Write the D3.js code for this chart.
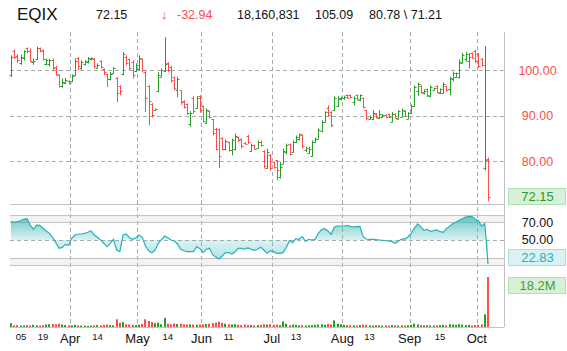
<!DOCTYPE html>
<html lang="en">
<head>
<meta charset="UTF-8">
<script src="https://d3js.org/d3.v7.min.js"></script>
<style>
  body { margin: 0; background: #fff; }
  svg { display: block; font-family: Arial, "Liberation Sans", sans-serif; }
</style>
<title>EQIX</title>
</head>
<body>
<svg width="567" height="351"></svg>
<script>
// ---- data ----
const symbol = "EQIX";
const lastText = "72.15";
const changeText = "-32.94";
const volumeText = "18,160,831";
const prevText = "105.09";
const hiLoText = "80.78 \\ 71.21";

const firstDay = "2015-03-05";
const lastDay = "2015-10-06";
const holidays = ["2015-04-03", "2015-05-25", "2015-07-03", "2015-09-07"];

const openP = [
  98.9,104.3,103.2,101.6,102.6,104.8,104.2,101.8,102.4,104.8,
  104.4,101.4,101.3,102.2,100.8,99.0,96.5,97.3,97.6,97.6,
  99.0,102.8,100.5,101.3,101.8,102.4,102.5,100.6,102.0,100.2,
  99.2,98.0,99.5,98.3,96.5,99.2,103.0,102.5,101.9,99.8,
  100.3,102.5,99.7,96.5,92.6,91.3,95.5,98.6,99.8,101.5,
  100.8,98.5,95.6,95.6,93.3,92.5,88.2,94.0,91.8,94.3,
  92.2,88.5,91.0,89.2,87.2,87.0,85.2,82.6,84.2,82.4,
  82.6,85.3,85.0,84.0,85.6,82.3,83.5,82.9,84.3,82.3,
  78.5,81.4,79.9,80.2,76.5,79.5,82.0,83.8,82.0,84.3,
  85.0,85.7,82.5,81.9,81.2,84.3,85.0,86.6,88.6,91.8,
  90.8,91.2,92.2,93.6,93.8,94.5,94.6,93.0,94.6,93.5,
  93.9,91.2,89.3,89.3,90.4,89.5,89.8,90.2,90.3,88.7,
  90.4,89.4,89.8,91.0,89.4,90.6,92.2,95.5,96.6,95.0,
  95.8,94.3,95.7,96.6,94.9,95.0,96.5,95.8,98.0,98.6,
  98.5,101.6,102.4,102.0,103.8,104.2,103.6,102.5,78.5,80.5
];
const highP = [
  103.3,104.6,103.5,103.5,104.4,105.0,104.8,102.6,105.2,105.0,
  104.6,102.6,102.5,102.6,101.0,99.1,98.2,98.3,97.8,99.1,
  102.6,102.9,102.2,102.2,102.9,102.9,102.7,101.5,102.2,100.4,
  99.3,99.6,100.7,98.5,96.7,104.0,103.3,102.6,102.2,101.5,
  103.3,102.6,99.8,96.7,92.8,91.6,99.6,100.4,107.3,101.8,
  101.0,98.6,98.6,95.6,93.4,92.7,91.0,94.3,94.3,94.5,
  92.3,91.6,91.2,89.3,87.3,87.2,85.3,84.8,84.3,85.0,
  86.1,85.4,85.0,84.2,85.8,83.9,83.6,84.6,84.5,82.4,
  82.8,81.6,79.9,80.2,79.9,82.8,83.9,83.9,84.6,85.7,
  86.1,85.9,83.2,83.2,84.6,85.2,87.2,89.0,91.0,92.3,
  91.0,94.3,94.3,94.2,94.4,94.7,94.7,94.3,94.7,94.7,
  94.0,91.3,90.0,91.2,90.6,91.2,90.4,90.3,90.4,90.8,
  90.6,91.2,91.6,91.2,90.8,92.5,96.7,97.3,96.7,95.8,
  96.0,96.7,96.2,96.7,96.0,97.3,96.6,98.6,99.7,99.5,
  102.4,103.8,104.0,103.8,103.9,104.5,103.8,102.7,105.3,80.78
];
const lowP = [
  98.5,102.5,101.6,101.2,102.2,103.8,101.8,101.2,102.2,104.0,
  102.2,101.1,100.8,99.8,98.8,96.2,96.2,97.0,96.9,97.4,
  98.8,100.0,100.1,101.1,101.5,102.2,100.4,100.4,100.4,98.9,
  96.3,97.8,99.3,93.0,94.5,98.9,101.1,100.0,98.2,99.6,
  100.0,99.6,90.8,87.9,89.6,91.2,95.2,98.5,99.6,99.6,
  97.3,95.6,94.1,92.4,91.6,90.2,87.6,90.5,91.5,90.7,
  88.5,88.3,89.4,85.7,82.4,78.5,82.4,82.4,82.1,81.3,
  82.4,84.2,82.8,83.8,83.8,82.1,82.6,82.8,83.2,78.4,
  78.4,77.9,78.4,75.8,76.2,79.4,81.5,81.3,81.9,84.0,
  84.6,82.8,82.0,81.7,81.0,84.1,84.9,86.4,88.5,89.8,
  87.5,91.0,91.9,93.4,93.5,93.8,93.9,92.3,93.4,93.2,
  91.6,89.0,89.2,89.0,89.4,89.3,89.6,89.5,89.5,88.6,
  89.4,89.3,89.7,89.8,89.3,90.5,92.0,94.4,94.9,94.7,
  94.1,94.1,95.5,95.0,94.8,94.9,95.3,94.5,97.6,98.4,
  98.2,101.5,101.9,100.4,102.6,101.6,100.5,100.8,78.0,71.21
];
const closeP = [
  103.0,103.0,102.2,103.0,104.2,104.2,102.0,102.1,104.8,104.2,
  102.5,102.3,102.2,100.4,99.2,96.5,97.5,97.9,97.2,98.8,
  102.0,101.0,101.8,102.0,102.6,102.8,101.0,101.2,100.8,99.6,
  98.0,99.2,100.4,95.0,95.5,103.5,101.5,100.4,99.0,101.2,
  102.8,100.0,94.0,93.2,90.2,91.5,99.0,100.0,101.3,100.0,
  97.8,96.0,98.0,93.0,92.0,90.6,90.6,91.0,94.0,91.2,
  88.8,91.2,89.7,86.2,82.8,81.2,82.8,84.4,82.5,84.6,
  85.6,84.6,83.4,83.9,84.2,83.6,82.8,84.3,83.5,79.0,
  82.0,78.5,78.8,78.0,78.8,82.2,83.5,81.6,84.3,85.4,
  85.9,83.3,82.9,82.8,84.2,85.0,86.9,88.6,90.8,90.2,
  88.0,94.0,93.8,94.0,94.2,94.0,94.1,94.0,93.6,94.5,
  92.0,89.5,89.8,90.5,89.8,90.3,90.2,89.7,89.8,90.4,
  89.6,91.0,91.2,90.0,90.5,92.2,96.3,97.0,95.3,95.5,
  94.5,96.4,96.0,95.3,95.8,96.9,95.6,98.2,99.3,99.3,
  101.9,103.4,103.5,103.0,102.8,102.0,101.0,101.2,80.2,72.15
];
// volume in millions
const volumeM = [
  1.4,0.6,0.7,0.5,0.6,0.7,0.5,0.8,0.6,0.5,
  0.6,0.9,1.0,1.1,1.0,1.2,0.9,0.7,0.6,0.6,
  0.8,0.6,0.5,0.5,0.4,0.5,0.6,0.7,0.6,0.8,
  0.9,0.7,0.6,2.8,1.5,1.8,1.0,0.9,0.8,0.7,
  0.9,1.1,2.8,2.2,1.8,1.4,1.6,1.0,3.3,1.2,
  1.0,1.3,1.1,1.2,1.0,0.9,1.0,0.9,0.8,0.9,
  1.0,1.1,1.2,1.4,1.6,1.9,1.5,1.2,1.0,0.9,
  1.0,0.8,0.7,0.9,0.8,0.7,0.6,0.7,0.8,1.0,
  0.9,1.0,0.8,0.9,0.7,2.0,1.2,0.7,0.9,0.8,
  0.6,0.7,0.5,0.6,0.7,0.8,0.9,1.0,0.8,1.1,
  0.9,2.4,1.2,1.0,0.8,0.7,0.6,0.6,0.5,0.7,
  0.9,0.8,0.6,0.5,0.7,0.6,0.5,0.6,0.5,0.7,
  0.6,0.5,0.6,0.5,0.6,0.8,1.2,0.9,0.7,0.6,
  0.7,0.6,0.5,0.6,0.7,0.8,0.6,1.0,0.9,0.8,
  1.0,0.9,0.7,0.8,0.6,0.7,0.8,0.9,4.6,18.16
];
const rsi = [
  70.7,70.0,70.7,71.8,73.4,74.1,66.9,62.1,66.9,66.6,
  63.2,60.2,57.5,53.0,47.0,40.6,41.7,45.1,44.0,51.9,
  55.6,56.8,56.8,57.5,58.7,60.5,55.6,53.0,50.0,46.2,
  42.5,46.2,50.8,38.7,36.8,55.6,56.8,52.6,50.8,52.6,
  55.6,53.0,43.2,37.9,35.7,38.7,46.2,50.4,54.5,52.6,
  50.0,48.9,45.5,39.5,37.9,36.8,36.8,36.8,42.5,40.2,
  35.7,39.5,40.6,33.1,30.8,28.5,31.9,35.7,35.7,34.2,
  36.8,40.6,40.6,39.8,41.0,39.5,38.3,39.5,41.7,38.7,
  34.9,37.9,36.8,34.9,34.9,35.7,41.7,49.2,47.0,51.5,
  50.8,53.8,48.5,50.8,50.0,50.8,57.5,61.7,62.8,60.2,
  56.4,64.7,65.8,65.8,65.8,66.6,65.4,64.7,65.4,65.1,
  53.8,51.1,50.8,50.8,50.4,50.0,49.6,49.2,48.9,48.1,
  46.2,48.5,51.1,51.1,53.4,57.5,63.2,68.1,65.1,60.9,
  62.1,59.8,60.5,61.3,59.4,58.7,62.8,65.4,68.5,70.3,
  72.2,74.1,76.0,76.7,76.4,73.4,71.8,65.8,68.8,22.83
];

const priceTicks = [80, 90, 100];
const rsiTicks = [70, 50];
const dayTickDates = ["2015-03-05", "2015-03-19", "2015-04-14", "2015-05-14", "2015-06-11", "2015-07-13", "2015-08-13", "2015-09-15"];
const dayTickLabels = ["05", "19", "14", "14", "11", "13", "13", "15"];
const monthTickDates = ["2015-04-01", "2015-05-01", "2015-06-01", "2015-07-01", "2015-08-03", "2015-09-01", "2015-10-01"];
const monthTickLabels = ["Apr", "May", "Jun", "Jul", "Aug", "Sep", "Oct"];

// ---- layout ----
const green = "#25a025", red = "#ff4b4b", teal = "#26b3b8";
const left = 10, right = 504;
const svg = d3.select("svg");
const fmt = d3.timeFormat("%Y-%m-%d");

// trading days
const dates = d3.timeDay.range(new Date(firstDay + "T00:00"), d3.timeDay.offset(new Date(lastDay + "T00:00"), 1))
  .filter(d => d.getDay() % 6 !== 0 && !holidays.includes(fmt(d)))
  .map(fmt);

const bars = dates.map((d, i) => ({
  d, o: openP[i], h: highP[i], l: lowP[i], c: closeP[i], v: volumeM[i], r: rsi[i]
}));

const x = d3.scalePoint().domain(dates).range([11, 488]);
const step = x.step();
const yP = d3.scaleLinear().domain([70.6, 108.86]).range([204, 30]);
const yR = d3.scaleLinear().domain([21.75, 78.25]).range([265, 215]);
const yV = d3.scaleLinear().domain([0, d3.max(volumeM)]).range([327, 277]);
const px = v => Math.round(v) + 0.5;
const col = b => b.c >= b.o ? green : red;

// rsi bands
svg.append("rect").attr("x", left).attr("y", 215).attr("width", right - left).attr("height", yR(70) - 215).attr("fill", "#f3f3f3");
svg.append("rect").attr("x", left).attr("y", yR(30)).attr("width", right - left).attr("height", 265 - yR(30)).attr("fill", "#f3f3f3");

// dashed grid
svg.append("g").selectAll("line").data(priceTicks).join("line")
  .attr("x1", left).attr("x2", right).attr("y1", d => px(yP(d))).attr("y2", d => px(yP(d)))
  .attr("stroke", "#aaa").attr("stroke-dasharray", "4,3");
svg.append("line").attr("x1", left).attr("x2", right).attr("y1", px(yR(50))).attr("y2", px(yR(50)))
  .attr("stroke", "#aaa").attr("stroke-dasharray", "4,3");
svg.append("g").selectAll("line").data(monthTickDates).join("line")
  .attr("x1", d => px(x(d) - step / 2)).attr("x2", d => px(x(d) - step / 2))
  .attr("y1", 32).attr("y2", 327)
  .attr("stroke", "#aaa").attr("stroke-dasharray", "4,3");

// panel lines
const solid = [204, 215, yR(70), yR(30), 265, 327];
svg.append("g").selectAll("line").data(solid).join("line")
  .attr("x1", left).attr("x2", right).attr("y1", d => px(d)).attr("y2", d => px(d))
  .attr("stroke", "#c2c2c2");
svg.append("line").attr("x1", right + 0.5).attr("x2", right + 0.5).attr("y1", 32).attr("y2", 327).attr("stroke", "#c2c2c2");

// rsi area + line
const defs = svg.append("defs");
const grad = defs.append("linearGradient").attr("id", "rsiFill")
  .attr("gradientUnits", "userSpaceOnUse").attr("x1", 0).attr("x2", 0).attr("y1", 215).attr("y2", 265);
grad.append("stop").attr("offset", "0%").attr("stop-color", "#3fb6b6").attr("stop-opacity", 0.8);
grad.append("stop").attr("offset", "50%").attr("stop-color", "#3fb6b6").attr("stop-opacity", 0.18);
grad.append("stop").attr("offset", "100%").attr("stop-color", "#3fb6b6").attr("stop-opacity", 0.45);

svg.append("path").datum(bars)
  .attr("fill", "url(#rsiFill)")
  .attr("d", d3.area().x(b => x(b.d)).y0(yR(50)).y1(b => yR(b.r)));
svg.append("path").datum(bars)
  .attr("fill", "none").attr("stroke", teal).attr("stroke-width", 1.2)
  .attr("d", d3.line().x(b => x(b.d)).y(b => yR(b.r)));

// volume
svg.append("g").selectAll("rect").data(bars).join("rect")
  .attr("x", b => Math.round(x(b.d)) - 1).attr("width", 2)
  .attr("y", b => yV(b.v)).attr("height", b => 327 - yV(b.v))
  .attr("fill", col);

// ohlc bars
svg.append("g").selectAll("path").data(bars).join("path")
  .attr("fill", "none").attr("stroke", col).attr("stroke-width", 1)
  .attr("d", b => {
    const cx = px(x(b.d));
    const o = px(yP(b.o)), c = px(yP(b.c));
    return `M${cx},${yP(b.h)}V${yP(b.l)}M${cx - 2},${o}H${cx}M${cx},${c}H${cx + 2}`;
  });

// x labels
svg.append("g").selectAll("text").data(dayTickDates).join("text")
  .attr("x", d => Math.max(x(d), 21)).attr("y", 340)
  .attr("text-anchor", "middle").attr("font-size", 9.5).attr("fill", "#111")
  .text((d, i) => dayTickLabels[i]);
svg.append("g").selectAll("text").data(monthTickDates).join("text")
  .attr("x", d => x(d) - step / 2).attr("y", 342.5)
  .attr("text-anchor", "middle").attr("font-size", 13).attr("fill", "#111")
  .text((d, i) => monthTickLabels[i]);

// right labels
svg.append("g").selectAll("text").data(priceTicks).join("text")
  .attr("x", 537.5).attr("y", d => yP(d)).attr("dy", "0.35em")
  .attr("text-anchor", "middle").attr("font-size", 12.5).attr("fill", red)
  .text(d => d.toFixed(2));
svg.append("g").selectAll("text").data(rsiTicks).join("text")
  .attr("x", 537.5).attr("y", d => yR(d)).attr("dy", "0.35em")
  .attr("text-anchor", "middle").attr("font-size", 12.5).attr("fill", "#111")
  .text(d => d.toFixed(2));

function valueBox(yTop, txt, fill, stroke, color) {
  svg.append("rect").attr("x", 508.5).attr("y", yTop + 0.5).attr("width", 57).attr("height", 16)
    .attr("fill", fill).attr("stroke", stroke);
  svg.append("text").attr("x", 537.5).attr("y", yTop + 8.5).attr("dy", "0.35em")
    .attr("text-anchor", "middle").attr("font-size", 13).attr("fill", color).text(txt);
}
const last = bars[bars.length - 1];
valueBox(Math.min(yP(last.c) - 8, 188), last.c.toFixed(2), "#d8f0d8", "#b4deb4", "#2a9a2a");
valueBox(Math.min(yR(last.r) - 8, 249), last.r.toFixed(2), "#d9f2f4", "#a9dfe4", "#2ab0b8");
valueBox(Math.max(yV(last.v) - 8, 277), last.v.toFixed(1) + "M", "#d8f0d8", "#b4deb4", "#4a9a3a");

// header
const head = svg.append("g").attr("fill", "#111");
head.append("text").attr("x", 17).attr("y", 20).attr("font-size", 17).text(symbol);
head.append("text").attr("x", 96).attr("y", 19).attr("font-size", 12.5).text(lastText);
head.append("text").attr("x", 161).attr("y", 19).attr("font-size", 12.5).attr("fill", red).text("\u2193");
head.append("text").attr("x", 177).attr("y", 19).attr("font-size", 12.5).attr("fill", red).text(changeText);
head.append("text").attr("x", 237).attr("y", 19).attr("font-size", 12.5).text(volumeText);
head.append("text").attr("x", 315).attr("y", 19).attr("font-size", 12.5).text(prevText);
head.append("text").attr("x", 369).attr("y", 19).attr("font-size", 12.5).text(hiLoText);
</script>
</body>
</html>
